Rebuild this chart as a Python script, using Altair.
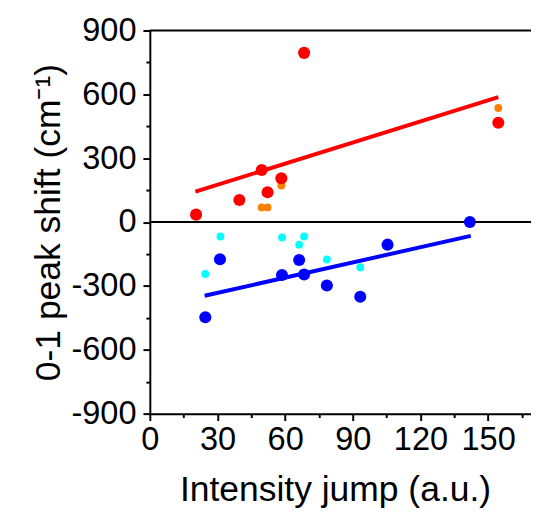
import altair as alt
import pandas as pd

# ---- data ----
red_x = [20.5, 39.7, 49.6, 52.2, 58.3, 68.4, 154.5]
red_y = [35, 104, 245, 140, 206, 795, 467]
orange_x = [49.6, 52.2, 58.3, 154.5]
orange_y = [69, 69, 172, 536]
blue_x = [141.9, 31.1, 24.6, 58.6, 66.2, 68.4, 78.5, 93.3, 105.4]
blue_y = [0, -175, -447, -249, -178, -246, -298, -351, -106]
cyan_x = [31.3, 24.6, 58.6, 68.4, 66.2, 78.5, 93.3]
cyan_y = [-68, -244, -72, -68, -106, -176, -212]
red_fit_x = [20.2, 154.5]
red_fit_y = [143, 587]
blue_fit_x = [24.3, 142.3]
blue_fit_y = [-346, -65]

x_ticks = list(range(0, 166, 15))
y_ticks = list(range(-900, 901, 150))
h_lines = [900, 0]

series_names = ["red", "orange", "blue", "cyan"]
series_colors = ["#ff0000", "#ff8000", "#0000ff", "#00ffff"]

big = pd.concat([
    pd.DataFrame({"x": red_x, "y": red_y, "s": "red"}),
    pd.DataFrame({"x": blue_x, "y": blue_y, "s": "blue"}),
])
small = pd.concat([
    pd.DataFrame({"x": orange_x, "y": orange_y, "s": "orange"}),
    pd.DataFrame({"x": cyan_x, "y": cyan_y, "s": "cyan"}),
])
fits = pd.concat([
    pd.DataFrame({"x": red_fit_x, "y": red_fit_y, "s": "red"}),
    pd.DataFrame({"x": blue_fit_x, "y": blue_fit_y, "s": "blue"}),
])
hl = pd.DataFrame({"y": h_lines})

W, H = 387, 389
TOTAL_H = 504
FONT = "Liberation Sans"

xs = alt.Scale(domain=[0, 169], nice=False, zero=False)
ys = alt.Scale(domain=[-900, 900], nice=False)

x_axis = alt.Axis(
    values=x_ticks,
    labelExpr="datum.value % 30 === 0 ? '' + datum.value : ''",
    tickSize={"condition": {"test": "datum.value % 30 === 0", "value": 7}, "value": 4},
    labelFlush=False, labelOverlap=False, labelPadding=3,
    labelFontSize=33, labelFont=FONT,
    title="Intensity jump (a.u.)", titleFontSize=36, titleFont=FONT,
    titleFontWeight="normal", titleX=188, titleY=88, titleBaseline="alphabetic",
    titleAlign="center",
    grid=False,
)
y_axis = alt.Axis(
    values=y_ticks,
    labelExpr="datum.value % 300 === 0 ? '' + datum.value : ''",
    tickSize={"condition": {"test": "datum.value % 300 === 0", "value": 7}, "value": 4},
    labelFlush=False, labelOverlap=False, labelPadding=7,
    labelFontSize=33, labelFont=FONT,
    title="0-1 peak shift (cm\u207b\u00b9)", titleFontSize=36, titleFont=FONT,
    titleFontWeight="normal", titleX=-103, titleY=H / 2, titleBaseline="middle",
    titleAlign="center", titleAngle=270,
    grid=False,
)

color = alt.Color("s:N", scale=alt.Scale(domain=series_names, range=series_colors), legend=None)

X = alt.X("x:Q", scale=xs, axis=x_axis)
Y = alt.Y("y:Q", scale=ys, axis=y_axis)

frame = alt.Chart(hl).mark_rule(color="black", strokeWidth=2).encode(
    y=alt.Y("y:Q", scale=ys, axis=y_axis),
    x=alt.value(0), x2=alt.value(W),
)
lines = alt.Chart(fits).mark_line(strokeWidth=4).encode(x=X, y=Y, color=color, detail="s:N")
small_pts = alt.Chart(small).mark_circle(size=64, opacity=1).encode(x=X, y=Y, color=color)
big_pts = alt.Chart(big).mark_circle(size=150, opacity=1).encode(x=X, y=Y, color=color)

chart = alt.layer(frame, lines, small_pts, big_pts).properties(
    width=W, height=H,
    autosize=alt.AutoSizeParams(type="none"),
    padding={"left": 144, "top": 19, "right": 0, "bottom": TOTAL_H - 19 - H},
).configure_view(stroke=None).configure_axis(
    domainColor="black", domainWidth=2, tickColor="black", tickWidth=2,
    labelColor="black", titleColor="black",
)

chart.save("out.html", embed_options={"renderer": "svg", "actions": False})
